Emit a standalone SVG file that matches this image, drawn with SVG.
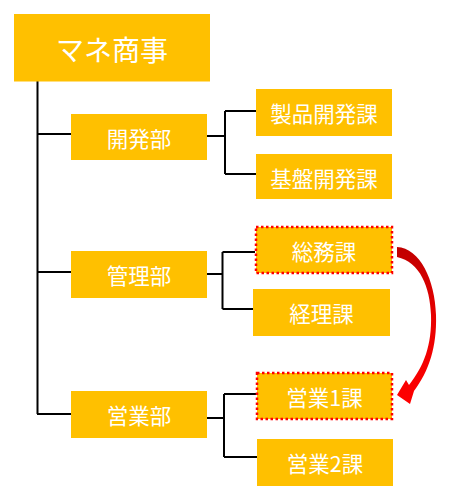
<svg xmlns="http://www.w3.org/2000/svg" width="454" height="499" viewBox="0 0 454 499">
<style>
.box{fill:#FFC000}
.sel{stroke:#FF0000;stroke-width:2.5;stroke-dasharray:2.5,2.5}
.t{fill:#FFFFFF;font-family:"Noto Sans CJK JP","Noto Sans CJK SC",sans-serif;font-size:21.5px;text-anchor:middle;dominant-baseline:central}
.big{font-size:28px}
.c{fill:none;stroke:#000000;stroke-width:2}
</style>
<defs>
<linearGradient id="rg" x1="0" y1="0" x2="0" y2="1">
<stop offset="0" stop-color="#C00000"/>
<stop offset="0.45" stop-color="#E80000"/>
<stop offset="1" stop-color="#FF0000"/>
</linearGradient>
</defs>
<g id="connectors">
<path class="c" d="M37.5,81 V414 M37,134 H71 M37,272 H71 M37,414 H71"/>
<path class="c" d="M207,136 H226 M225,111 V174 M225,111 H256 M225,174 H256"/>
<path class="c" d="M207,274 H223 M222.5,252 V309 M222.5,252 H255 M222.5,309 H253"/>
<path class="c" d="M207,418 H225 M224,394 V457 M224,394 H256 M224,457 H257"/>
<path id="arrow" fill="url(#rg)" d="M397,247 C420,248 435,280 436,315 C437,347 429,371 414,391 L410,404 L397,395 L406,380 L409,385 C424,366 432,345 431,315 C430,287 420,262 397,257 Z"/>
</g>
<g id="n0"><rect class="box" x="14" y="14" width="196" height="67.5"/><text class="t big" x="112" y="49">マネ商事</text></g>
<g id="n1"><rect class="box" x="71" y="114" width="136" height="46"/><text class="t" x="139" y="137.5">開発部</text></g>
<g id="n2"><rect class="box" x="71" y="251" width="136" height="47"/><text class="t" x="139" y="274.5">管理部</text></g>
<g id="n3"><rect class="box" x="71" y="391" width="136" height="47"/><text class="t" x="139" y="414.5">営業部</text></g>
<g id="n11"><rect class="box" x="256" y="89" width="136" height="47"/><text class="t" x="324" y="112.5">製品開発課</text></g>
<g id="n12"><rect class="box" x="256" y="154" width="136" height="45"/><text class="t" x="324" y="177">基盤開発課</text></g>
<g id="n21"><rect class="box sel" x="256" y="227" width="136" height="46"/><text class="t" x="324" y="250">総務課</text></g>
<g id="n22"><rect class="box" x="253" y="289" width="137" height="47"/><text class="t" x="321.5" y="312.5">経理課</text></g>
<g id="n31"><rect class="box sel" x="257" y="373" width="135" height="46"/><text class="t" x="324.5" y="396">営業1課</text></g>
<g id="n32"><rect class="box" x="257" y="439" width="136" height="47"/><text class="t" x="325" y="462.5">営業2課</text></g>
</svg>
